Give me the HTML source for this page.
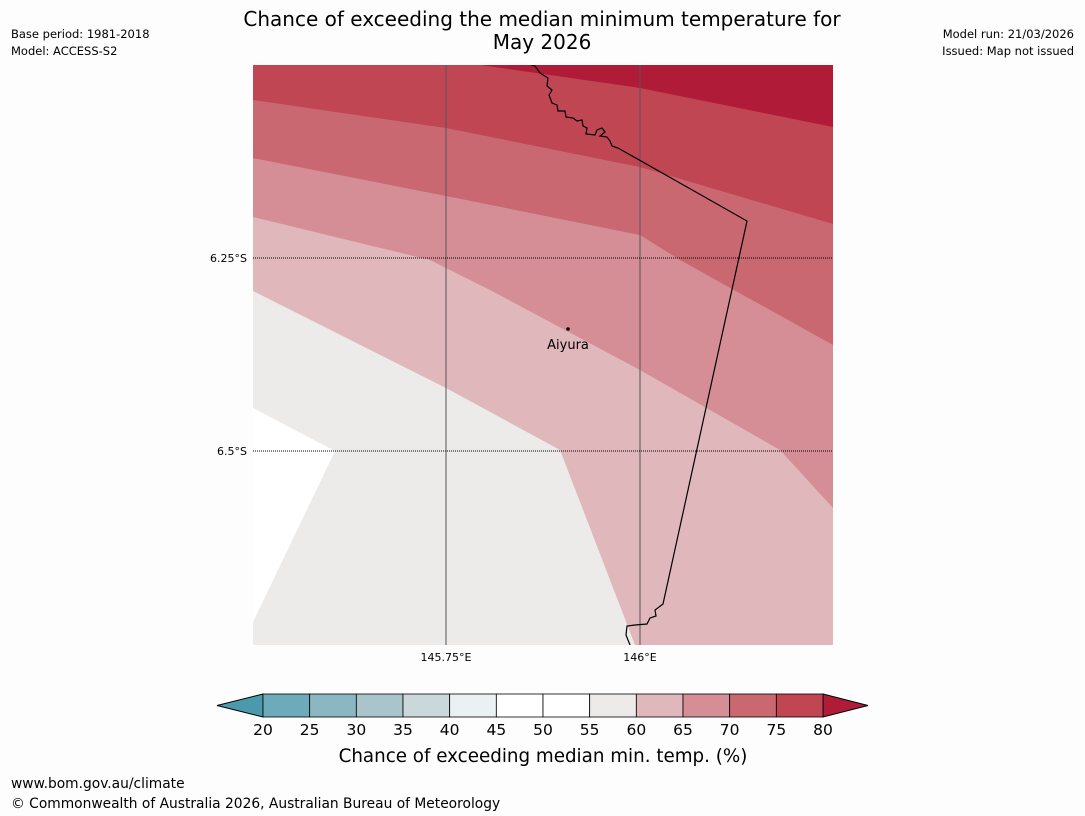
<!DOCTYPE html>
<html><head><meta charset="utf-8"><style>
html,body{margin:0;padding:0;background:#fdfdfd;width:1085px;height:816px;overflow:hidden;font-family:"Liberation Sans","DejaVu Sans",sans-serif;}
svg{display:block}
</style></head><body>
<svg id="chart" width="1085" height="816" xmlns="http://www.w3.org/2000/svg" font-family="DejaVu Sans, Liberation Sans, sans-serif">
<rect width="1085" height="816" fill="#fdfdfd"/>
<text x="542" y="26" font-size="20" text-anchor="middle" fill="#000">Chance of exceeding the median minimum temperature for</text>
<text x="542" y="49" font-size="20" text-anchor="middle" fill="#000">May 2026</text>
<text x="11" y="38" font-size="11.5">Base period: 1981-2018</text>
<text x="11" y="55" font-size="11.5">Model: ACCESS-S2</text>
<text x="1074" y="38" font-size="11.5" text-anchor="end">Model run: 21/03/2026</text>
<text x="1074" y="55" font-size="11.5" text-anchor="end">Issued: Map not issued</text>

<g>
<clipPath id="mc"><rect x="253" y="65" width="580" height="580"/></clipPath>
<g clip-path="url(#mc)">
<rect x="253" y="65" width="580" height="580" fill="#ffffff"/>
<polygon fill="#edebea" points="253,280 833,280 833,645 253,645 253,622 335,451 253,408"/>
<polygon fill="#e0b8bc" points="253,200 833,200 833,645 635,645 560,450 446,388 253,291"/>
<polygon fill="#d58e95" points="253,65 833,65 833,508 780,450 640,370 490,290 430,260 253,217"/>
<polygon fill="#ca6872" points="253,65 833,65 833,345 680,260 640,235 446,196 253,158"/>
<polygon fill="#c04654" points="253,65 833,65 833,224 640,167 446,128 253,100"/>
<polygon fill="#b01c38" points="480,65 833,65 833,127 640,88"/>
<line x1="446" y1="65" x2="446" y2="645" stroke="#555" stroke-width="1"/>
<line x1="640" y1="65" x2="640" y2="645" stroke="#555" stroke-width="1"/>
<line x1="253" y1="258" x2="833" y2="258" stroke="#000" stroke-width="1" stroke-dasharray="1,1"/>
<line x1="253" y1="451" x2="833" y2="451" stroke="#000" stroke-width="1" stroke-dasharray="1,1"/>
<polyline fill="none" stroke="#000" stroke-width="1.2" points="525,63 535,66 540,73 548,78 547,86 552,90 549,95 552,103 557,105 558,111 565,111 566,117 573,118 577,121 582,120 583,126 587,128 586,134 595,135 597,130 602,128 605,132 600,136 607,137 610,141 612,146 618,148 747,221 663,604 655,610 656,616 650,618 647,624 635,625 627,626 626,635 630,645"/>
</g>
<circle cx="568" cy="329" r="1.8" fill="#000"/>
<text x="568" y="349" font-size="13" text-anchor="middle">Aiyura</text>
<text x="247" y="262" font-size="11" text-anchor="end">6.25°S</text>
<text x="247" y="455" font-size="11" text-anchor="end">6.5°S</text>
<text x="446" y="661" font-size="11" text-anchor="middle">145.75°E</text>
<text x="640" y="661" font-size="11" text-anchor="middle">146°E</text>
</g>

<g id="cbar"></g>
<text x="543" y="762" font-size="18.3" text-anchor="middle">Chance of exceeding median min. temp. (%)</text>
<text x="11" y="788" font-size="13.8">www.bom.gov.au/climate</text>
<text x="11" y="808" font-size="13.8">© Commonwealth of Australia 2026, Australian Bureau of Meteorology</text>
</svg>
<script>
const binEdges = [20,25,30,35,40,45,50,55,60,65,70,75,80];
const binColors = ["#6eabba","#8bb7c2","#a9c5cb","#cbd8db","#ebf0f2","#ffffff","#ffffff","#edebea","#e0b8bc","#d58e95","#ca6872","#c04654"];
const extendColors = ["#4a9aac","#b01c38"];
const NS="http://www.w3.org/2000/svg";
const g=document.getElementById('cbar');
const x0=263,x1=823,y0=694,h=23;
const xs=v=>x0+(v-binEdges[0])/(binEdges[binEdges.length-1]-binEdges[0])*(x1-x0);
function mk(t,a){const e=document.createElementNS(NS,t);for(const k in a)e.setAttribute(k,a[k]);g.appendChild(e);return e;}
const lt=mk('polygon',{points:`${x0},${y0} ${x0-46},${y0+h/2} ${x0},${y0+h}`,fill:extendColors[0],stroke:'#000','stroke-width':1});


const rt=mk('polygon',{points:`${x1},${y0} ${x1+45},${y0+h/2} ${x1},${y0+h}`,fill:extendColors[1],stroke:'#000','stroke-width':1});


for(let i=0;i<binColors.length;i++){
  const r=mk('rect',{x:xs(binEdges[i]),y:y0,width:xs(binEdges[i+1])-xs(binEdges[i]),height:h,fill:binColors[i],stroke:'#000','stroke-width':0.8});
  
  
}
for(let i=0;i<binEdges.length;i++){
  const t=mk('text',{x:xs(binEdges[i]),y:735,'font-size':15.5,'text-anchor':'middle'});
  t.textContent=binEdges[i];
  
  
}
</script>
</body></html>
